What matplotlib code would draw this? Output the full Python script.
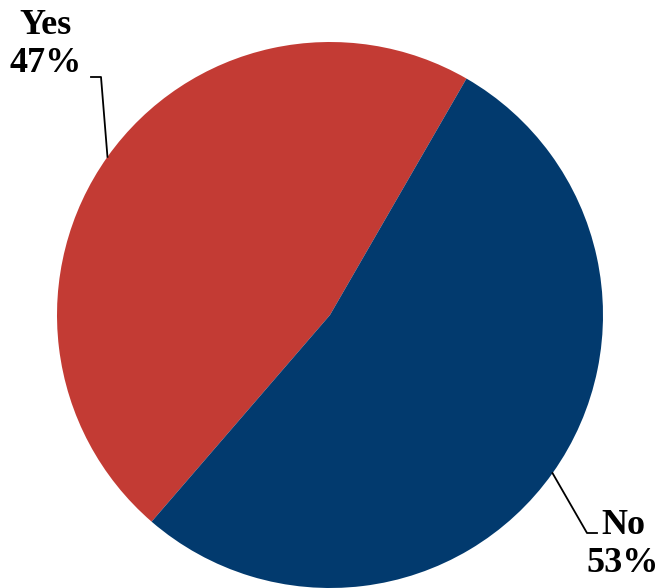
import numpy as np
import matplotlib.pyplot as plt

labels = ['Yes', 'No']
values = [47, 53]
colors = ['#C33B34', '#023A6E']

W, H = 663, 588
fig = plt.figure(figsize=(W / 100, H / 100), dpi=100)
ax = fig.add_axes([0, 0, 1, 1])

cx, cy, r = 330, H - 315, 273
wedges, _ = ax.pie(values, colors=colors, startangle=60, counterclock=True,
                   center=(cx, cy), radius=r, frame=True)
ax.set_xlim(0, W)
ax.set_ylim(0, H)
ax.set_aspect('equal')
ax.axis('off')

font = dict(family=['Liberation Serif', 'DejaVu Serif'], fontsize=26, fontweight='bold',
            linespacing=1.2, ha='center', va='center')

# leader lines start at the wedge mid-angle on the rim
def rim(w):
    a = np.deg2rad((w.theta1 + w.theta2) / 2)
    return cx + r * np.cos(a), cy + r * np.sin(a)

x0, y0 = rim(wedges[0])
ax.plot([x0, 101, 91], [y0, H - 77, H - 77], color='black', lw=1.3)
ax.text(46, H - 44, f'{labels[0]}\n{values[0]}%', **font)

x1, y1 = rim(wedges[1])
ax.plot([x1, 587, 597], [y1, H - 533, H - 533], color='black', lw=1.3)
ax.text(623, H - 545, f'{labels[1]}\n{values[1]}%', **font)

fig.savefig('out.png', dpi=100)
